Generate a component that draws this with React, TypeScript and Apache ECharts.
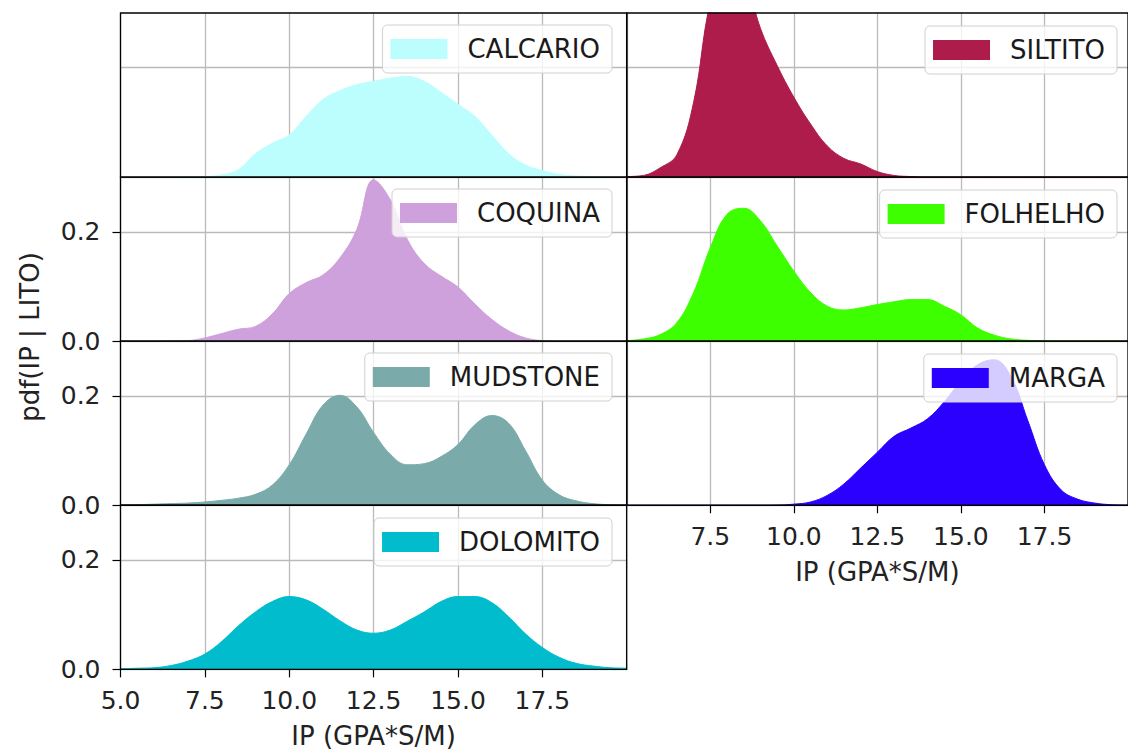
import React, { useEffect, useRef } from "react";
import * as echarts from "echarts";

// IP grid (GPA*S/M) on which the densities were read
const IP_VALUES = [5, 5.5, 6, 6.5, 7, 7.5, 8, 8.5, 9, 9.5, 10, 10.5, 11, 11.5, 12, 12.5, 13, 13.5, 14, 14.5, 15, 15.5, 16, 16.5, 17, 17.5, 18, 18.5, 19, 19.5, 20];

const CALCARIO = [0, 0, 0, 0.0002, 0.0005, 0.001, 0.004, 0.014, 0.043, 0.062, 0.077, 0.111, 0.142, 0.158, 0.169, 0.175, 0.181, 0.184, 0.175, 0.155, 0.133, 0.111, 0.077, 0.043, 0.022, 0.012, 0.005, 0.002, 0.001, 0, 0];
const COQUINA = [0, 0, 0, 0.0003, 0.001, 0.006, 0.014, 0.022, 0.027, 0.05, 0.087, 0.107, 0.121, 0.152, 0.204, 0.295, 0.258, 0.186, 0.142, 0.119, 0.099, 0.068, 0.04, 0.019, 0.006, 0.001, 0, 0, 0, 0, 0];
const MUDSTONE = [0.0005, 0.001, 0.002, 0.003, 0.004, 0.006, 0.009, 0.013, 0.02, 0.037, 0.074, 0.13, 0.183, 0.201, 0.18, 0.133, 0.093, 0.074, 0.076, 0.089, 0.111, 0.147, 0.164, 0.15, 0.1, 0.046, 0.019, 0.008, 0.003, 0.001, 0.0005];
const DOLOMITO = [0.001, 0.002, 0.003, 0.007, 0.015, 0.028, 0.051, 0.08, 0.105, 0.124, 0.133, 0.127, 0.11, 0.089, 0.072, 0.066, 0.072, 0.088, 0.105, 0.124, 0.133, 0.133, 0.122, 0.096, 0.065, 0.04, 0.022, 0.011, 0.006, 0.003, 0.002];
const SILTITO = [0.001, 0.003, 0.017, 0.041, 0.137, 0.32, 0.4, 0.37, 0.272, 0.204, 0.146, 0.097, 0.057, 0.034, 0.024, 0.01, 0.003, 0.001, 0, 0, 0, 0, 0, 0, 0, 0, 0, 0, 0, 0, 0];
const FOLHELHO = [0.001, 0.004, 0.012, 0.034, 0.089, 0.171, 0.232, 0.243, 0.22, 0.174, 0.128, 0.089, 0.064, 0.057, 0.061, 0.067, 0.072, 0.076, 0.076, 0.064, 0.048, 0.024, 0.011, 0.004, 0.0015, 0.0005, 0, 0, 0, 0, 0];
const MARGA = [0, 0, 0, 0, 0, 0, 0, 0, 0, 0.0003, 0.002, 0.006, 0.018, 0.039, 0.068, 0.097, 0.126, 0.141, 0.158, 0.189, 0.227, 0.257, 0.266, 0.235, 0.155, 0.074, 0.028, 0.011, 0.004, 0.001, 0.0003];

const LITHOLOGIES = ["CALCARIO", "COQUINA", "MUDSTONE", "DOLOMITO", "SILTITO", "FOLHELHO", "MARGA"];
const DENSITIES = [CALCARIO, COQUINA, MUDSTONE, DOLOMITO, SILTITO, FOLHELHO, MARGA];
const COLORS = ["#bcfefe", "#cea0dc", "#7aabaa", "#00bccc", "#ad1c4a", "#3eff00", "#2b00ff"];

const Y_TICKS = [0, 0.2];
const X_TITLE = "IP (GPA*S/M)";
const Y_TITLE = "pdf(IP | LITO)";

// panel placement: [column, row]
const PANELS = [
  [0, 0], [0, 1], [0, 2], [0, 3],
  [1, 0], [1, 1], [1, 2],
];

const FONT = "DejaVu Sans";
const TEXT_COLOR = "#222222";
const GRID_COLOR = "#bababa";

const COL_LEFT = [120.5, 626.8];
const COL_WIDTH = [506.2, 505.5];
const ROW_TOP = 13;
const ROW_H = 164.08;
const LEGEND_TOP = [[25, 189, 353, 518], [26, 190, 354]];
const LEGEND_RIGHT = [516, 11];

const fmt = (v: number) => v.toFixed(1);

export default function App() {
  const ref = useRef<HTMLDivElement>(null);

  useEffect(() => {
    if (!ref.current) return;
    const chart = echarts.init(ref.current, undefined, { renderer: "svg" });

    const grids: any[] = [];
    const xAxes: any[] = [];
    const yAxes: any[] = [];
    const series: any[] = [];
    const legends: any[] = [];

    PANELS.forEach(([col, row], i) => {
      const isBottom = (col === 0 && row === 3) || (col === 1 && row === 2);
      const hasYLabels = col === 0 && row > 0;
      grids.push({
        left: COL_LEFT[col],
        top: ROW_TOP + row * ROW_H,
        width: COL_WIDTH[col],
        height: ROW_H,
        show: true,
        borderColor: "#000",
        borderWidth: 1.3,
        backgroundColor: "transparent",
        z: 5,
      });
      xAxes.push({
        type: "value",
        gridIndex: i,
        min: 5,
        max: 20,
        interval: 2.5,
        axisLine: { show: false },
        axisTick: { show: isBottom, length: 8, lineStyle: { color: "#000", width: 1.2 } },
        axisLabel: {
          show: isBottom,
          fontSize: 25,
          fontFamily: FONT,
          color: TEXT_COLOR,
          margin: 19,
          formatter: fmt,
          showMinLabel: col === 0,
          showMaxLabel: false,
        },
        splitLine: { show: true, lineStyle: { color: GRID_COLOR, width: 1.3 } },
        name: isBottom ? X_TITLE : "",
        nameLocation: "middle",
        nameGap: 54,
        nameTextStyle: { fontSize: 26, fontFamily: FONT, color: TEXT_COLOR },
      });
      yAxes.push({
        type: "value",
        gridIndex: i,
        min: 0,
        max: 0.3,
        interval: 0.2,
        axisLine: { show: false },
        axisTick: {
          show: hasYLabels,
          length: 8,
          customValues: Y_TICKS,
          lineStyle: { color: "#000", width: 1.2 },
        },
        axisLabel: {
          show: hasYLabels,
          customValues: Y_TICKS,
          fontSize: 25,
          fontFamily: FONT,
          color: TEXT_COLOR,
          margin: 20,
          formatter: fmt,
        },
        splitLine: { show: true, lineStyle: { color: GRID_COLOR, width: 1.3 } },
      });
      const color = COLORS[i];
      const vals = DENSITIES[i];
      series.push({
        type: "line",
        name: LITHOLOGIES[i],
        xAxisIndex: i,
        yAxisIndex: i,
        data: IP_VALUES.map((x, k) => [x, vals[k]]),
        smooth: 0.4,
        symbol: "none",
        showSymbol: false,
        color,
        itemStyle: { color },
        lineStyle: { color, width: 1 },
        areaStyle: { color, opacity: 1 },
        clip: true,
        z: 2,
      });
      legends.push({
        data: [LITHOLOGIES[i]],
        right: LEGEND_RIGHT[col],
        top: LEGEND_TOP[col][row],
        orient: "horizontal",
        icon: "rect",
        itemWidth: 57,
        itemHeight: 20,
        padding: [11, 12, 11, 8],
        backgroundColor: "rgba(255,255,255,0.8)",
        borderColor: "#d0d0d0",
        borderWidth: 1,
        borderRadius: 5,
        selectedMode: false,
        itemStyle: { borderWidth: 0 },
        textStyle: {
          fontSize: 26,
          fontFamily: FONT,
          color: "#1a1a1a",
          lineHeight: 26,
          padding: [0, 0, 0, 15],
        },
      });
    });

    chart.setOption({
      animation: false,
      backgroundColor: "#ffffff",
      textStyle: { fontFamily: FONT },
      grid: grids,
      xAxis: xAxes,
      yAxis: yAxes,
      legend: legends,
      series,
      graphic: [
        {
          type: "text",
          x: 30,
          y: 337,
          rotation: Math.PI / 2,
          style: {
            text: Y_TITLE,
            fontSize: 26,
            fontFamily: FONT,
            fill: TEXT_COLOR,
            align: "center",
            verticalAlign: "middle",
          },
        },
      ],
    });

    return () => chart.dispose();
  }, []);

  return (
    <div
      ref={ref}
      style={{ position: "absolute", left: 0, top: 0, width: 1128, height: 751 }}
    />
  );
}
